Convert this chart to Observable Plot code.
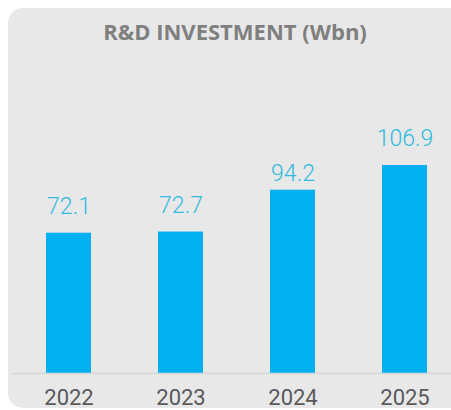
<!DOCTYPE html>
<html>
<head>
<meta charset="utf-8">
<script src="https://cdn.jsdelivr.net/npm/d3@7"></script>
<script src="https://cdn.jsdelivr.net/npm/@observablehq/plot@0.6"></script>
<style>
  html, body { margin: 0; padding: 0; background: #ffffff; width: 451px; height: 410px; overflow: hidden; }
  #panel { position: absolute; left: 8px; top: 8px; width: 470px; height: 400px; background: #e8e8e8; border-radius: 15px; }
  #title { position: absolute; left: 0; top: 6px; width: 470px; height: 50px; line-height: 50px; text-align: center;
           font-family: "Open Sans", sans-serif; font-weight: 700; font-size: 22px; color: #7f7f7f; white-space: nowrap; }
  #chart { position: absolute; left: 0; top: 56px; }
</style>
</head>
<body>
<div id="panel"></div>
<div id="title">R&amp;D INVESTMENT (Wbn)</div>
<div id="chart"></div>
<script>
const years = ["2022", "2023", "2024", "2025"];
const values = [72.1, 72.7, 94.2, 106.9];

const data = years.map((y, i) => ({year: y, value: values[i]}));

const chart = Plot.plot({
  width: 451,
  height: 354,
  marginLeft: 12,
  marginRight: 0,
  marginTop: 83.5,
  marginBottom: 37,
  style: {background: "transparent", overflow: "visible"},
  x: {domain: years, range: [23.6, 449.2], paddingInner: 0.6, paddingOuter: 0.2, label: null},
  y: {domain: [0, 120], axis: null},
  marks: [
    Plot.barY(data, {x: "year", y: "value", fill: "#00b0f0"}),
    Plot.ruleY([0], {stroke: "#d6d6d6", strokeWidth: 1.5}),
    Plot.text(data.filter(d => d.year !== "2024"), {x: "year", y: "value", text: d => d.value.toFixed(1),
      lineAnchor: "bottom", dy: -19, fill: "#2fbbe0", fontSize: 23, fontWeight: 300, fontFamily: "Roboto, sans-serif"}),
    Plot.text(data.filter(d => d.year === "2024"), {x: "year", y: "value", text: d => d.value.toFixed(1),
      lineAnchor: "bottom", dy: -9, fill: "#2fbbe0", fontSize: 23, fontWeight: 300, fontFamily: "Roboto, sans-serif"}),
    Plot.axisX({tickSize: 0, tickPadding: 16, fontSize: 22, fill: "#595959", fontFamily: "Roboto, sans-serif", label: null})
  ]
});
document.getElementById("chart").appendChild(chart);
</script>
</body>
</html>
